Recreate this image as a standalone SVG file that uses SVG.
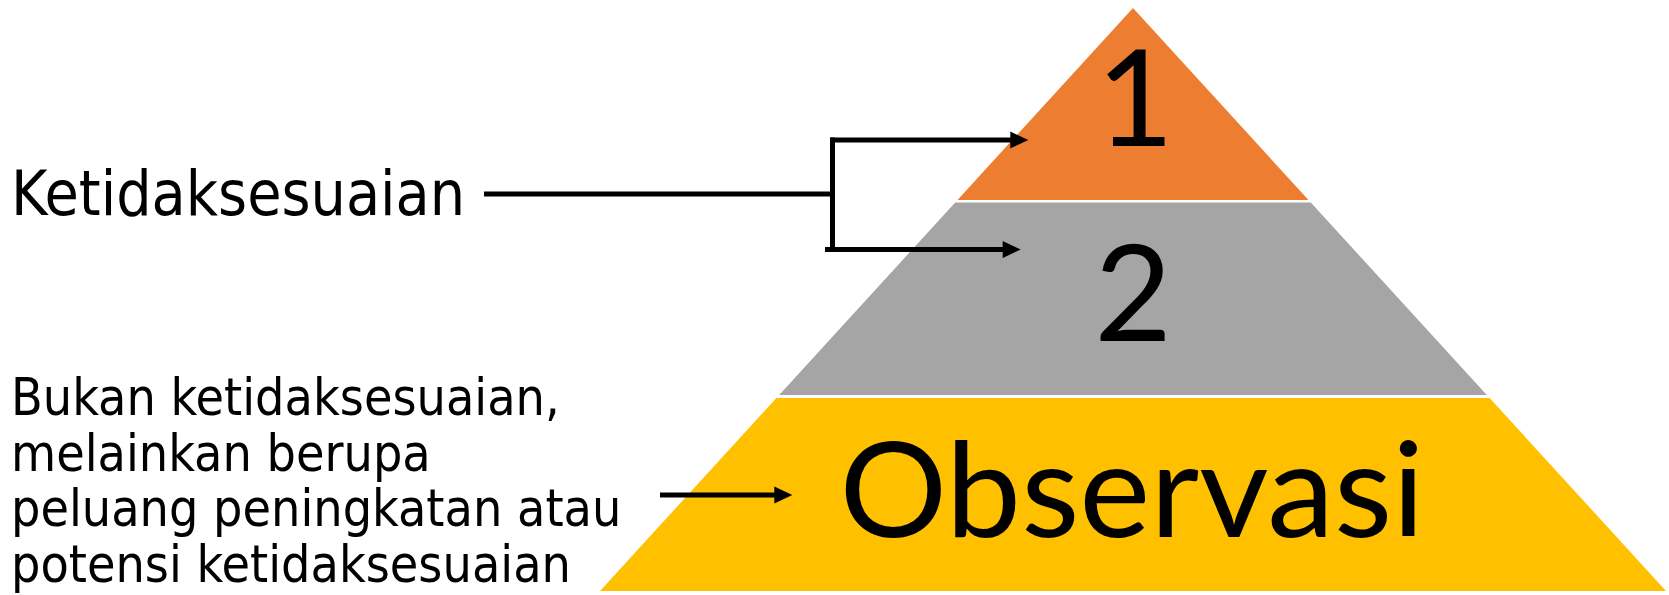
<svg xmlns="http://www.w3.org/2000/svg" width="1669" height="595" viewBox="0 0 1669 595">
  <style>
    .label { font-family: "DejaVu Sans Condensed", "DejaVu Sans", sans-serif; fill: #000; }
    .tier-text { font-family: Lato, "Open Sans", sans-serif; fill: #000; text-anchor: middle; }
    .wire { fill: none; stroke: #000; stroke-width: 5; }
  </style>
  <defs>
    <marker id="arrow" markerUnits="userSpaceOnUse" markerWidth="18" markerHeight="18" refX="10" refY="8.5" orient="auto" overflow="visible">
      <path d="M0,0 L18,8.5 L0,17 Z" fill="#000"/>
    </marker>
  </defs>

  <rect width="1669" height="595" fill="#fff"/>

  <!-- pyramid tiers -->
  <g id="tier-1">
    <polygon points="1133,8 1308.5,200 957.5,200" fill="#ED7D31"/>
    <text class="tier-text" x="1135" y="145.5" font-size="134">1</text>
  </g>
  <g id="tier-2">
    <polygon points="955.2,202.5 1310.8,202.5 1486.8,395 779.2,395" fill="#A5A5A5"/>
    <text class="tier-text" x="1133" y="341" font-size="134">2</text>
  </g>
  <g id="tier-observasi">
    <polygon points="776.4,398 1489.6,398 1666,591 600,591" fill="#FFC000"/>
    <text class="tier-text" x="1132" y="537" font-size="132" textLength="585" lengthAdjust="spacingAndGlyphs">Observasi</text>
  </g>

  <!-- side labels -->
  <g id="label-ketidaksesuaian">
    <text class="label" x="11" y="215" font-size="62">Ketidaksesuaian</text>
  </g>
  <g id="label-observasi">
    <text class="label" font-size="51.5">
      <tspan x="11" y="415">Bukan ketidaksesuaian,</tspan>
      <tspan x="11" y="470.5">melainkan berupa</tspan>
      <tspan x="11" y="526">peluang peningkatan atau</tspan>
      <tspan x="11" y="581.5">potensi ketidaksesuaian</tspan>
    </text>
  </g>

  <!-- connectors -->
  <g id="connectors">
    <line class="wire" x1="484" y1="194" x2="835" y2="194"/>
    <line class="wire" x1="832.5" y1="137.5" x2="832.5" y2="252"/>
    <line class="wire" x1="830" y1="140" x2="1020.3" y2="140" marker-end="url(#arrow)"/>
    <line class="wire" x1="825" y1="249.5" x2="1012.7" y2="249.5" marker-end="url(#arrow)"/>
    <line class="wire" x1="660" y1="495" x2="784.3" y2="495" marker-end="url(#arrow)"/>
  </g>
</svg>
